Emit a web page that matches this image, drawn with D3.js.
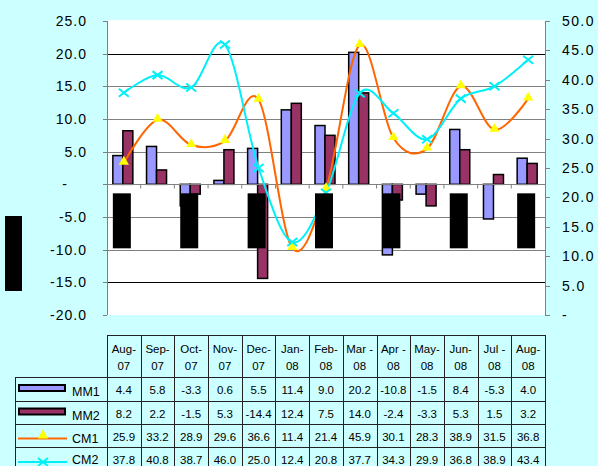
<!DOCTYPE html>
<html><head><meta charset="utf-8">
<script src="https://cdn.jsdelivr.net/npm/d3@7"></script>
<style>
html,body{margin:0;padding:0;background:#CCFFFF;}
svg{display:block;font-family:"Liberation Sans",Arial,sans-serif;}
</style></head>
<body>
<svg id="chart" width="598" height="466"></svg>
<script>
const monthsTop = ["Aug-","Sep-","Oct-","Nov-","Dec-","Jan-","Feb-","Mar -","Apr -","May-","Jun-","Jul -","Aug-"];
const monthsBottom = ["07","07","07","07","07","08","08","08","08","08","08","08","08"];
const categories = ["Aug-07","Sep-07","Oct-07","Nov-07","Dec-07","Jan-08","Feb-08","Mar-08","Apr-08","May-08","Jun-08","Jul-08","Aug-08"];
const MM1 = [4.4,5.8,-3.3,0.6,5.5,11.4,9.0,20.2,-10.8,-1.5,8.4,-5.3,4.0];
const MM2 = [8.2,2.2,-1.5,5.3,-14.4,12.4,7.5,14.0,-2.4,-3.3,5.3,1.5,3.2];
const CM1 = [25.9,33.2,28.9,29.6,36.6,11.4,21.4,45.9,30.1,28.3,38.9,31.5,36.8];
const CM2 = [37.8,40.8,38.7,46.0,25.0,12.4,20.8,37.7,34.3,29.9,36.8,38.9,43.4];
const leftTicks = [25,20,15,10,5,0,-5,-10,-15,-20];
const rightTicks = [50,45,40,35,30,25,20,15,10,5,0];
const seriesNames = ["MM1","MM2","CM1","CM2"];
const seriesData = [MM1,MM2,CM1,CM2];
const hiddenLabelCats = ["Aug-07","Oct-07","Dec-07","Feb-08","Apr-08","Jun-08","Aug-08"];

const svg = d3.select("#chart");
const L = 107, R = 545, T = 21, B = 315;
const x = d3.scaleBand().domain(categories).range([L, R]).padding(0);
const yL = d3.scaleLinear().domain([-20, 25]).range([B, T]);
const yR = d3.scaleLinear().domain([0, 50]).range([B, T]);
const f1 = v => d3.format(".1f")(v).replace("\u2212", "-");
const fmt = v => v === 0 ? "-" : f1(v);
const C1 = "#9999FF", C2 = "#993366", C3 = "#FF6600", C4 = "#00F0F8";

// plot background
svg.append("rect").attr("x", L).attr("y", T - 1).attr("width", R - L).attr("height", B - T + 1).attr("fill", "#fff");

// gridlines
svg.append("g").selectAll("line").data(leftTicks.filter(v => v > -20 && v < 25 && v !== 0)).join("line")
  .attr("x1", L).attr("x2", R).attr("y1", d => Math.round(yL(d)) + 0.5).attr("y2", d => Math.round(yL(d)) + 0.5)
  .attr("stroke", d => (d === 20 || d === -15) ? "#000" : "#808080").attr("stroke-width", 1);

// left axis
const axL = svg.append("g");
axL.append("line").attr("x1", L + 0.5).attr("x2", L + 0.5).attr("y1", T).attr("y2", B).attr("stroke", "#808080");
axL.selectAll("line.t").data(leftTicks).join("line").attr("class", "t")
  .attr("x1", L - 4).attr("x2", L).attr("y1", d => Math.round(yL(d)) + 0.5).attr("y2", d => Math.round(yL(d)) + 0.5).attr("stroke", "#808080");
axL.selectAll("text").data(leftTicks).join("text")
  .attr("x", d => d === 0 ? 68 : 87).attr("y", d => yL(d) + 5).attr("text-anchor", "end")
  .attr("font-size", 14).attr("letter-spacing", 1).attr("fill", "#000").text(fmt);

// right axis
const axR = svg.append("g");
axR.append("line").attr("x1", R + 0.5).attr("x2", R + 0.5).attr("y1", T).attr("y2", B).attr("stroke", "#808080");
axR.selectAll("line.t").data(rightTicks).join("line").attr("class", "t")
  .attr("x1", R).attr("x2", R + 5).attr("y1", d => Math.round(yR(d)) + 0.5).attr("y2", d => Math.round(yR(d)) + 0.5).attr("stroke", "#808080");
axR.selectAll("text").data(rightTicks).join("text")
  .attr("x", 562).attr("y", d => yR(d) + 5).attr("text-anchor", "start")
  .attr("font-size", 14).attr("letter-spacing", 1.4).attr("fill", "#000").text(fmt);

// bars
const bw = 10;
const bars = svg.append("g");
[MM1, MM2].forEach((arr, si) => {
  bars.selectAll("rect.s" + si).data(arr).join("rect").attr("class", "s" + si)
    .attr("x", (d, i) => x(categories[i]) + x.bandwidth() / 2 - 11 + si * bw)
    .attr("y", d => yL(Math.max(0, d)))
    .attr("width", bw)
    .attr("height", d => Math.abs(yL(d) - yL(0)))
    .attr("fill", si === 0 ? C1 : C2).attr("stroke", "#000").attr("stroke-width", 1.5);
});

// category axis at zero
const y0 = Math.round(yL(0)) + 0.5;
svg.append("line").attr("x1", L).attr("x2", R).attr("y1", y0).attr("y2", y0).attr("stroke", "#808080");
svg.append("g").selectAll("line").data(categories.slice(1)).join("line")
  .attr("x1", d => x(d)).attr("x2", d => x(d)).attr("y1", y0).attr("y2", y0 + 4).attr("stroke", "#808080");

// lines
const cx = i => x(categories[i]) + x.bandwidth() / 2;
const lineGen = d3.line().x((d, i) => cx(i)).y(d => yR(d)).curve(d3.curveCardinal.tension(0));
svg.append("path").attr("d", lineGen(CM1)).attr("fill", "none").attr("stroke", C3).attr("stroke-width", 2);
svg.append("path").attr("d", lineGen(CM2)).attr("fill", "none").attr("stroke", C4).attr("stroke-width", 2);
const tri = d3.symbol().type(d3.symbolTriangle).size(45);
svg.append("g").selectAll("path").data(CM1).join("path")
  .attr("d", tri).attr("transform", (d, i) => `translate(${cx(i)},${yR(d) - 1})`).attr("fill", "#FFFF00");
svg.append("g").selectAll("path").data(CM2).join("path")
  .attr("d", "M-5,-4L5,4M-5,4L5,-4").attr("transform", (d, i) => `translate(${cx(i)},${yR(d)})`)
  .attr("stroke", C4).attr("stroke-width", 2).attr("fill", "none");

// obscured (black) category labels & axis title
svg.append("g").selectAll("rect").data(hiddenLabelCats).join("rect")
  .attr("x", d => x(d) + x.bandwidth() / 2 - 11).attr("y", yL(0) + 9).attr("width", 18).attr("height", 55).attr("fill", "#000");
svg.append("rect").attr("x", 5).attr("y", 216).attr("width", 17).attr("height", 75).attr("fill", "#000");

// data table
const tbl = svg.append("g").attr("font-size", 11.5).attr("fill", "#000");
const hTop = 335, hBot = 377;
const rowY = [377, 401, 424, 447, 471];
const bc = "#222";
categories.forEach((c, i) => {
  tbl.append("line").attr("x1", Math.round(x(c)) + 0.5).attr("x2", Math.round(x(c)) + 0.5).attr("y1", hTop).attr("y2", 466).attr("stroke", bc);
});
tbl.append("line").attr("x1", R + 0.5).attr("x2", R + 0.5).attr("y1", hTop).attr("y2", 466).attr("stroke", bc);
tbl.append("line").attr("x1", L).attr("x2", R + 1).attr("y1", hTop + 0.5).attr("y2", hTop + 0.5).attr("stroke", bc);
tbl.append("line").attr("x1", 15.5).attr("x2", 15.5).attr("y1", hBot).attr("y2", 466).attr("stroke", bc);
rowY.slice(0, 4).forEach(yy => {
  tbl.append("line").attr("x1", 15).attr("x2", R + 1).attr("y1", yy + 0.5).attr("y2", yy + 0.5).attr("stroke", bc);
});
categories.forEach((c, i) => {
  tbl.append("text").attr("x", cx(i)).attr("y", 353).attr("text-anchor", "middle").text(monthsTop[i]);
  tbl.append("text").attr("x", cx(i)).attr("y", 370).attr("text-anchor", "middle").text(monthsBottom[i]);
});
seriesData.forEach((arr, r) => {
  const mid = (rowY[r] + rowY[r + 1]) / 2;
  arr.forEach((v, i) => {
    tbl.append("text").attr("x", cx(i)).attr("y", mid + 5).attr("text-anchor", "middle").text(f1(v));
  });
  tbl.append("text").attr("x", 72).attr("y", Math.min(mid + 7, 464)).attr("font-size", 12.5).text(seriesNames[r]);
  if (r < 2) {
    tbl.append("rect").attr("x", 19).attr("y", mid - 4).attr("width", 46).attr("height", 6)
      .attr("fill", r === 0 ? C1 : C2).attr("stroke", "#000").attr("stroke-width", 2);
  } else if (r === 2) {
    tbl.append("line").attr("x1", 18).attr("x2", 67).attr("y1", mid + 3).attr("y2", mid + 3).attr("stroke", C3).attr("stroke-width", 2);
    tbl.append("path").attr("d", tri).attr("transform", `translate(43,${mid})`).attr("fill", "#FFFF00");
  } else {
    tbl.append("line").attr("x1", 18).attr("x2", 67).attr("y1", mid + 3).attr("y2", mid + 3).attr("stroke", C4).attr("stroke-width", 2);
    tbl.append("path").attr("d", "M-5,-4L5,4M-5,4L5,-4").attr("transform", `translate(43,${mid + 3})`)
      .attr("stroke", C4).attr("stroke-width", 2).attr("fill", "none");
  }
});
</script>
</body></html>
